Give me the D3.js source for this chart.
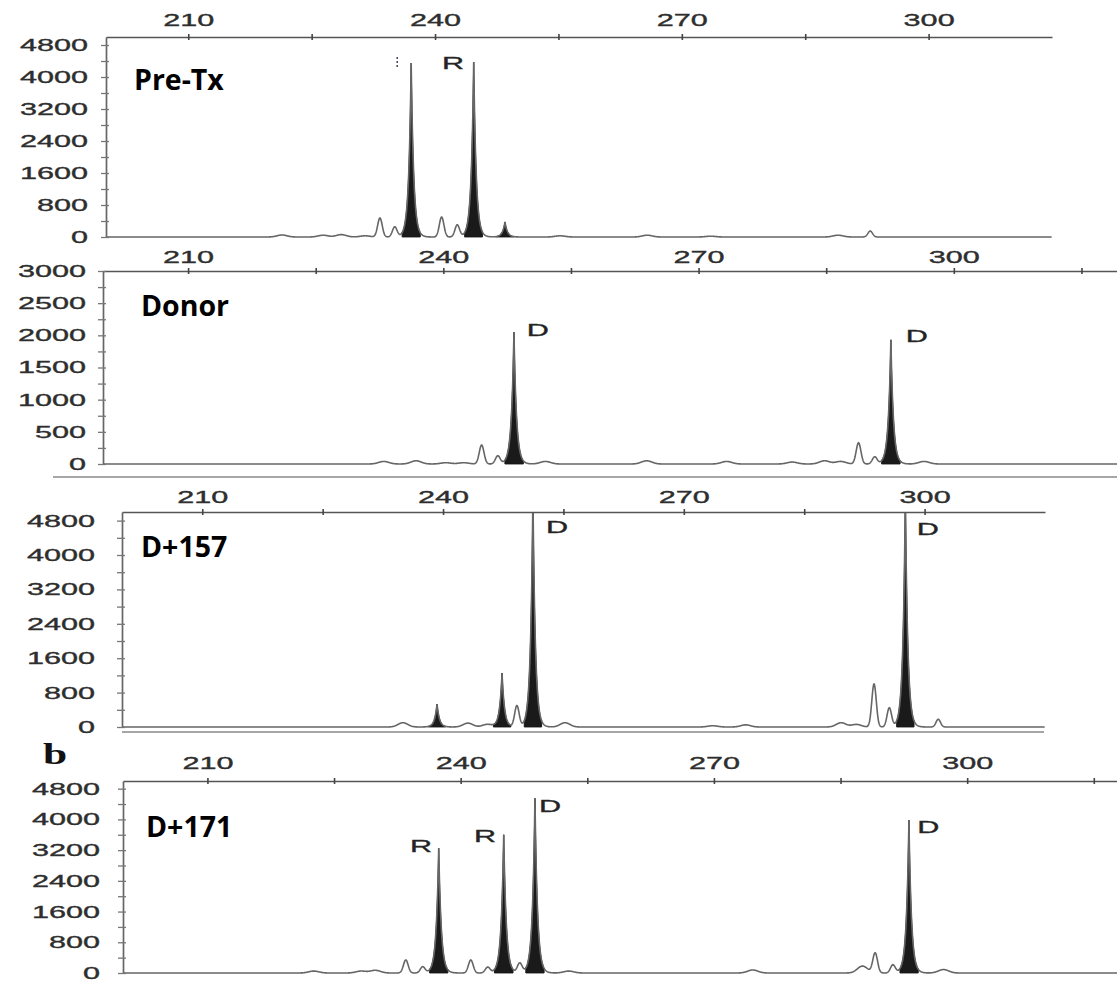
<!DOCTYPE html>
<html>
<head>
<meta charset="utf-8">
<script src="https://cdn.jsdelivr.net/npm/d3@7"></script>
<style>
body { margin: 0; background: #fff; }
.tick text, .allele { font-family: "Liberation Sans", Arial, sans-serif; font-size: 17px; fill: #2e2e2e; stroke: #2e2e2e; stroke-width: 0.35px; }
.title { font-family: "Open Sans", "Noto Sans", sans-serif; font-weight: 700; font-size: 28.5px; fill: #000; }
.panel-letter { font-family: "Liberation Serif", "DejaVu Serif", serif; font-weight: 700; font-size: 30px; fill: #111; }
</style>
</head>
<body>
<div id="chart"></div>
<script>
const svgWidth = 1117;
const svgHeight = 981;

// x ticks (bp) shared by all panels, labelled every 30
const xTicks = [210, 225, 240, 255, 270, 285, 300, 315];
const xLabels = [210, 240, 270, 300];

// y ticks
const yTicksRFU = [0, 400, 800, 1200, 1600, 2000, 2400, 2800, 3200, 3600, 4000, 4400, 4800];
const yLabelsRFU = [0, 800, 1600, 2400, 3200, 4000, 4800];
const yTicksDonor = [0, 250, 500, 750, 1000, 1250, 1500, 1750, 2000, 2250, 2500, 2750, 3000];
const yLabelsDonor = [0, 500, 1000, 1500, 2000, 2500, 3000];

// peaks: [size bp, height RFU, kind]  f = filled allele peak, o = outline peak, n = baseline bump
const preTxPeaks = [
    [221.4, 50, 'n'], [226.4, 45, 'n'], [228.6, 60, 'n'], [231.5, 30, 'n'],
    [233.3, 475, 'o'], [235.1, 250, 'o'], [237.1, 4350, 'f'],
    [240.8, 500, 'o'], [242.7, 300, 'o'], [244.7, 4375, 'f'], [248.5, 375, 'f'],
    [255.2, 30, 'n'], [265.8, 45, 'n'], [273.5, 20, 'n'], [289.0, 45, 'n'], [292.9, 150, 'o']
];
const donorPeaks = [
    [233.0, 40, 'n'], [236.8, 50, 'n'], [240.3, 20, 'n'], [242.4, 20, 'n'],
    [244.5, 295, 'o'], [246.4, 125, 'o'], [248.3, 2050, 'f'],
    [252.0, 40, 'n'], [263.9, 50, 'n'], [273.3, 40, 'n'], [281.0, 30, 'n'], [284.8, 50, 'n'], [286.7, 40, 'n'],
    [288.8, 330, 'o'], [290.7, 110, 'o'], [292.6, 1930, 'f'], [296.5, 40, 'n']
];
const d157Peaks = [
    [235.0, 100, 'n'], [239.25, 535, 'f'], [243.1, 90, 'n'], [245.5, 60, 'n'],
    [247.35, 1256, 'f'], [249.2, 490, 'o'], [251.2, 5400, 'f'], [255.2, 100, 'n'],
    [273.6, 30, 'n'], [277.7, 50, 'n'], [289.6, 100, 'n'], [291.5, 60, 'n'],
    [293.7, 1000, 'o'], [295.6, 440, 'o'], [297.6, 5400, 'f'], [301.7, 180, 'o']
];
const d171Peaks = [
    [222.6, 50, 'n'], [228.2, 50, 'n'], [229.9, 70, 'n'],
    [233.5, 340, 'o'], [235.5, 160, 'o'], [237.4, 3250, 'f'],
    [241.2, 340, 'o'], [243.2, 150, 'o'], [245.1, 3600, 'f'], [247.0, 250, 'o'], [248.8, 4550, 'f'],
    [252.8, 50, 'n'], [274.6, 80, 'n'], [287.6, 180, 'n'], [289.1, 520, 'o'], [291.2, 210, 'o'],
    [293.1, 3980, 'f'], [297.2, 90, 'n']
];

// allele calls: [letter, size bp, height RFU]
const preTxAlleles = [['R', 242.2, 4200]];
const donorAlleles = [['D', 251.1, 1990], ['D', 295.65, 1896]];
const d157Alleles = [['D', 254.2, 4512], ['D', 300.4, 4465]];
const d171Alleles = [['R', 235.3, 3151], ['R', 242.9, 3411], ['D', 250.6, 4193], ['D', 295.4, 3646]];

const panelTitles = ['Pre-Tx', 'Donor', 'D+157', 'D+171'];

// layout of the four stacked electropherograms
const panels = [
    { peaks: preTxPeaks, alleles: preTxAlleles, yTicks: yTicksRFU, yLabels: yLabelsRFU, yMax: 5000,
      xDomain: [200, 315], left: 106, right: 1052, top: 37, base: 237, labelGap: 18, xLabelGap: 11,
      titleX: 134, titleY: 90 },
    { peaks: donorPeaks, alleles: donorAlleles, yTicks: yTicksDonor, yLabels: yLabelsDonor, yMax: 3000,
      xDomain: [200, 320], left: 103, right: 1124, top: 271, base: 464, labelGap: 17, xLabelGap: 8,
      titleX: 141, titleY: 316, bottomLine: { x0: 53, x1: 1117, dy: 13 } },
    { peaks: d157Peaks, alleles: d157Alleles, yTicks: yTicksRFU, yLabels: yLabelsRFU, yMax: 5000,
      xDomain: [200, 315], left: 122, right: 1045, top: 512, base: 727, labelGap: 27, xLabelGap: 9,
      titleX: 141, titleY: 557, bottomLine: { x0: 122, x1: 1044, dy: 5 } },
    { peaks: d171Peaks, alleles: d171Alleles, yTicks: yTicksRFU, yLabels: yLabelsRFU, yMax: 5000,
      xDomain: [200, 320], left: 123, right: 1136, top: 781, base: 973, labelGap: 23, xLabelGap: 12,
      titleX: 146, titleY: 837 }
];

const stretch = 1.8; // the scanned figure is stretched horizontally

// peak shapes by kind
const shape = {
    f: dx => Math.exp(-Math.abs(dx) / 0.3),
    o: dx => Math.exp(-dx * dx / (2 * 0.28 * 0.28)),
    n: dx => Math.exp(-dx * dx / (2 * 0.6 * 0.6))
};

const svg = d3.select('#chart')
    .append('svg')
    .attr('width', svgWidth)
    .attr('height', svgHeight);

const defs = svg.append('defs');

const drawPanel = (p, i) => {
    const x = d3.scaleLinear().domain(p.xDomain).range([p.left, p.right]);
    const y = d3.scaleLinear().domain([0, p.yMax]).range([p.base, p.top]);
    const g = svg.append('g').attr('class', 'panel');

    // signal = sum of peaks
    const signal = bp => d3.sum(p.peaks, pk => pk[1] * shape[pk[2]](bp - pk[0]));

    let samples = d3.range(p.xDomain[0], p.xDomain[1], 0.04).concat(p.peaks.map(pk => pk[0]));
    samples.sort((a, b) => a - b);

    defs.append('clipPath').attr('id', 'clip' + i)
        .append('rect')
        .attr('x', p.left).attr('y', p.top)
        .attr('width', Math.min(p.right, svgWidth) - p.left)
        .attr('height', p.base - p.top + 3);

    const plot = g.append('g').attr('clip-path', `url(#clip${i})`);

    // filled allele peaks
    const area = d3.area()
        .x(d => x(d))
        .y0(y(0))
        .y1(d => y(signal(d)));
    p.peaks.filter(pk => pk[2] === 'f').forEach(pk => {
        const win = samples.filter(s => Math.abs(s - pk[0]) <= 1.1);
        plot.append('path')
            .attr('d', area(win))
            .attr('fill', '#1a1a1a')
            .attr('stroke', '#1a1a1a')
            .attr('stroke-width', 1);
    });

    // trace line
    const line = d3.line().x(d => x(d)).y(d => y(signal(d)));
    plot.append('path')
        .attr('d', line(samples))
        .attr('fill', 'none')
        .attr('stroke', '#666')
        .attr('stroke-width', 1.6);

    // top axis (bp)
    const xAxis = g.append('g')
        .attr('transform', `translate(0, ${p.top})`)
        .call(d3.axisTop(x)
            .tickValues(xTicks.filter(t => t < p.xDomain[1]))
            .tickSizeInner(3).tickSizeOuter(0)
            .tickPadding(p.xLabelGap - 3)
            .tickFormat(d => xLabels.includes(d) ? d : ''));
    xAxis.select('.domain').attr('stroke', '#555').attr('stroke-width', 1.4);
    xAxis.selectAll('.tick line').attr('y1', 3).attr('y2', -3).attr('stroke', '#444').attr('stroke-width', 1.6);
    xAxis.selectAll('.tick text')
        .attr('transform', `scale(${stretch},1)`)
        .attr('fill', '#2e2e2e');

    // left axis (RFU)
    const yAxis = g.append('g')
        .attr('transform', `translate(${p.left}, 0)`)
        .call(d3.axisLeft(y)
            .tickValues(p.yTicks)
            .tickSizeInner(5).tickSizeOuter(0)
            .tickFormat(d => p.yLabels.includes(d) ? d : ''));
    yAxis.select('.domain').attr('stroke', '#666').attr('stroke-width', 1.7);
    yAxis.selectAll('.tick line').attr('x1', 3).attr('x2', -5).attr('stroke', '#777').attr('stroke-width', 1.3);
    yAxis.selectAll('.tick text')
        .attr('x', 0)
        .attr('transform', `translate(${-p.labelGap}, 0) scale(${stretch},1)`)
        .attr('fill', '#2e2e2e');

    if (p.bottomLine) {
        g.append('line')
            .attr('x1', p.bottomLine.x0).attr('x2', p.bottomLine.x1)
            .attr('y1', p.base + p.bottomLine.dy).attr('y2', p.base + p.bottomLine.dy)
            .attr('stroke', '#888').attr('stroke-width', 1.5);
    }

    // allele letters
    g.selectAll('.allele')
        .data(p.alleles).enter()
        .append('text')
        .attr('class', 'allele')
        .attr('text-anchor', 'middle')
        .attr('transform', d => `translate(${x(d[1])}, ${y(d[2])}) scale(${stretch},1)`)
        .style('fill', '#222')
        .text(d => d[0]);

    // sample title
    g.append('text')
        .attr('class', 'title')
        .attr('x', p.titleX)
        .attr('y', p.titleY)
        .text(panelTitles[i]);

    return { x, y };
};

const scales = panels.map(drawPanel);

// clipped remnant of a label left of the first Pre-Tx peak
svg.append('line')
    .attr('x1', scales[0].x(235.4)).attr('x2', scales[0].x(235.4))
    .attr('y1', scales[0].y(4500)).attr('y2', scales[0].y(4200))
    .attr('stroke', '#445')
    .attr('stroke-width', 1.5)
    .attr('stroke-dasharray', '2,2');

// panel letter
svg.append('text')
    .attr('class', 'panel-letter')
    .attr('text-anchor', 'middle')
    .attr('transform', `translate(55, 764) scale(1.45,1)`)
    .text('b');
</script>
</body>
</html>
